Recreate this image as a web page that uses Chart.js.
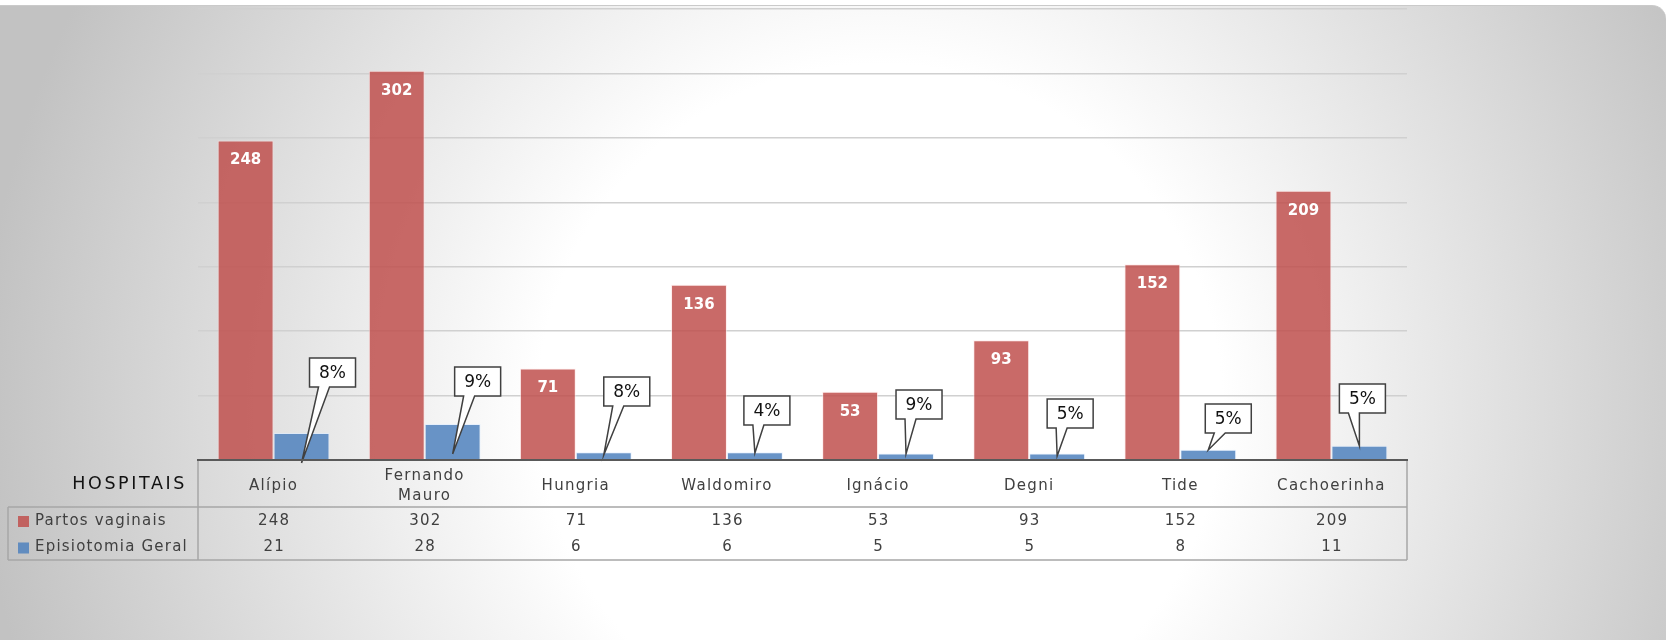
<!DOCTYPE html>
<html>
<head>
<meta charset="utf-8">
<script src="https://cdn.jsdelivr.net/npm/chart.js@4"></script>
<style>
  html, body { margin: 0; padding: 0; background: #fff; }
  #wrap { position: relative; width: 1672px; height: 640px; overflow: hidden; }
  #panel {
    position: absolute; left: 0; top: 5px; width: 1666px; height: 640px;
    border-top: 1px solid #cacaca; border-top-right-radius: 14px;
    background: radial-gradient(circle 900px at 880px 400px, #ffffff 0%, #ffffff 38%, #c2c2c2 100%);
  }
  canvas { position: absolute; left: 0; top: 0; }
</style>
</head>
<body>
<div id="wrap">
  <div id="panel"></div>
  <canvas id="hospChart" width="1672" height="640"></canvas>
</div>
<script>
const hospitals = ["Alípio", ["Fernando", "Mauro"], "Hungria", "Waldomiro", "Ignácio", "Degni", "Tide", "Cachoerinha"];
const partosVaginais = [248, 302, 71, 136, 53, 93, 152, 209];
const episiotomiaGeral = [21, 28, 6, 6, 5, 5, 8, 11];
const percentLabels = ["8%", "9%", "8%", "4%", "9%", "5%", "5%", "5%"];
const seriesNames = ["Partos vaginais", "Episiotomia Geral"];
const yMax = 350;
const yStep = 50;

// callout placement in px: [box left - bar centre, box top - axis, tip - axis]
const calloutPos = [
  [8, -102, 3], [2, -93, -6], [0, -83, -5], [-11, -64, -7],
  [-10, -70, -6], [-10, -61, -4], [-3, -56, -10], [-20, -76, -14],
];

const FONT = "'DejaVu Sans', sans-serif";

const tablePlugin = {
  id: "dataTable",
  beforeDraw(chart) {
    chart.ctx.letterSpacing = "1.3px";
  },
  afterDatasetsDraw(chart) {
    const ctx = chart.ctx;
    const axisY = chart.chartArea.bottom;
    ctx.save();
    ctx.letterSpacing = "0px";
    ctx.textAlign = "center";
    ctx.textBaseline = "middle";

    // values inside the red bars
    ctx.font = "bold 15px " + FONT;
    ctx.fillStyle = "#ffffff";
    chart.getDatasetMeta(0).data.forEach((bar, i) => {
      ctx.fillText(String(partosVaginais[i]), bar.x, bar.y + 20);
    });

    // callouts over the blue bars
    ctx.font = "17px " + FONT;
    chart.getDatasetMeta(1).data.forEach((bar, i) => {
      const [dx, top, tip] = calloutPos[i];
      const w = 46, h = 29;
      const bx = bar.x + dx, by = axisY + top;
      ctx.beginPath();
      ctx.moveTo(bx, by);
      ctx.lineTo(bx + w, by);
      ctx.lineTo(bx + w, by + h);
      ctx.lineTo(bx + 20, by + h);
      ctx.lineTo(bar.x, axisY + tip);
      ctx.lineTo(bx + 9, by + h);
      ctx.lineTo(bx, by + h);
      ctx.closePath();
      ctx.fillStyle = "#ffffff";
      ctx.fill();
      ctx.lineWidth = 1.5;
      ctx.strokeStyle = "#404040";
      ctx.stroke();
      ctx.fillStyle = "#111111";
      ctx.fillText(percentLabels[i], bx + w / 2, by + h / 2 + 1);
    });
    ctx.restore();
  },
  afterDraw(chart) {
    const ctx = chart.ctx;
    const xs = chart.scales.x;
    const { left, right, bottom: axisY } = chart.chartArea;
    const headLine = axisY + 47;
    const tableBottom = axisY + 100;
    const rowY = [axisY + 61, axisY + 87.5];
    const rows = [partosVaginais, episiotomiaGeral];

    ctx.save();
    ctx.strokeStyle = "#a6a6a6";
    ctx.lineWidth = 1.5;
    ctx.beginPath();
    ctx.moveTo(left, axisY + 1); ctx.lineTo(left, tableBottom);
    ctx.moveTo(right, axisY + 1); ctx.lineTo(right, tableBottom);
    ctx.moveTo(8, headLine); ctx.lineTo(right, headLine);
    ctx.moveTo(8, tableBottom); ctx.lineTo(right, tableBottom);
    ctx.moveTo(8, headLine); ctx.lineTo(8, tableBottom);
    ctx.stroke();

    // HOSPITAIS header
    ctx.textBaseline = "middle";
    ctx.textAlign = "right";
    ctx.letterSpacing = "2.6px";
    ctx.font = "17.5px " + FONT;
    ctx.fillStyle = "#111111";
    ctx.fillText("HOSPITAIS", left - 11, axisY + 24);

    // legend keys and row values
    ctx.font = "15px " + FONT;
    ctx.letterSpacing = "1.2px";
    rows.forEach((vals, r) => {
      const ds = chart.data.datasets[r];
      ctx.fillStyle = ds.backgroundColor;
      ctx.fillRect(18, rowY[r] - 5, 11, 11);
      ctx.fillStyle = "#404040";
      ctx.textAlign = "left";
      ctx.fillText(seriesNames[r], 35, rowY[r]);
      ctx.textAlign = "center";
      vals.forEach((v, i) => {
        ctx.fillText(String(v), xs.getPixelForValue(i) + 0.6, rowY[r]);
      });
    });
    ctx.restore();
  },
};

function createHospitalChart() {
  const ctx = document.getElementById("hospChart");
  if (!ctx) return;

  return new Chart(ctx, {
    type: "bar",
    data: {
      labels: hospitals,
      datasets: [
        {
          label: seriesNames[0],
          data: partosVaginais,
          backgroundColor: "rgba(192, 80, 77, 0.85)",
          borderColor: "rgba(255, 225, 225, 0.6)",
          borderWidth: 1,
          categoryPercentage: 0.74,
          barPercentage: 1,
        },
        {
          label: seriesNames[1],
          data: episiotomiaGeral,
          backgroundColor: "rgba(79, 129, 189, 0.85)",
          borderColor: "rgba(220, 235, 255, 0.6)",
          borderWidth: 1,
          categoryPercentage: 0.74,
          barPercentage: 1,
        },
      ],
    },
    options: {
      responsive: false,
      animation: false,
      layout: { padding: { left: 198, right: 265, top: 9, bottom: 0 } },
      plugins: {
        legend: { display: false },
        tooltip: { enabled: false },
      },
      scales: {
        x: {
          grid: { display: false, drawTicks: false },
          border: { color: "#595959", width: 2, z: 1 },
          ticks: {
            color: "#404040",
            font: { family: "DejaVu Sans", size: 15, lineHeight: 1.35 },
            padding: 16,
            crossAlign: "center",
            autoSkip: false,
            maxRotation: 0,
          },
          afterFit(scale) { scale.height = 180; },
        },
        y: {
          min: 0,
          max: yMax,
          ticks: { display: false, stepSize: yStep },
          grid: { color: "#d0d0d0", lineWidth: 1.5, drawTicks: false },
          border: { display: false },
          afterFit(scale) { scale.width = 0; },
        },
      },
    },
    plugins: [tablePlugin],
  });
}

document.addEventListener("DOMContentLoaded", createHospitalChart);
</script>
</body>
</html>
